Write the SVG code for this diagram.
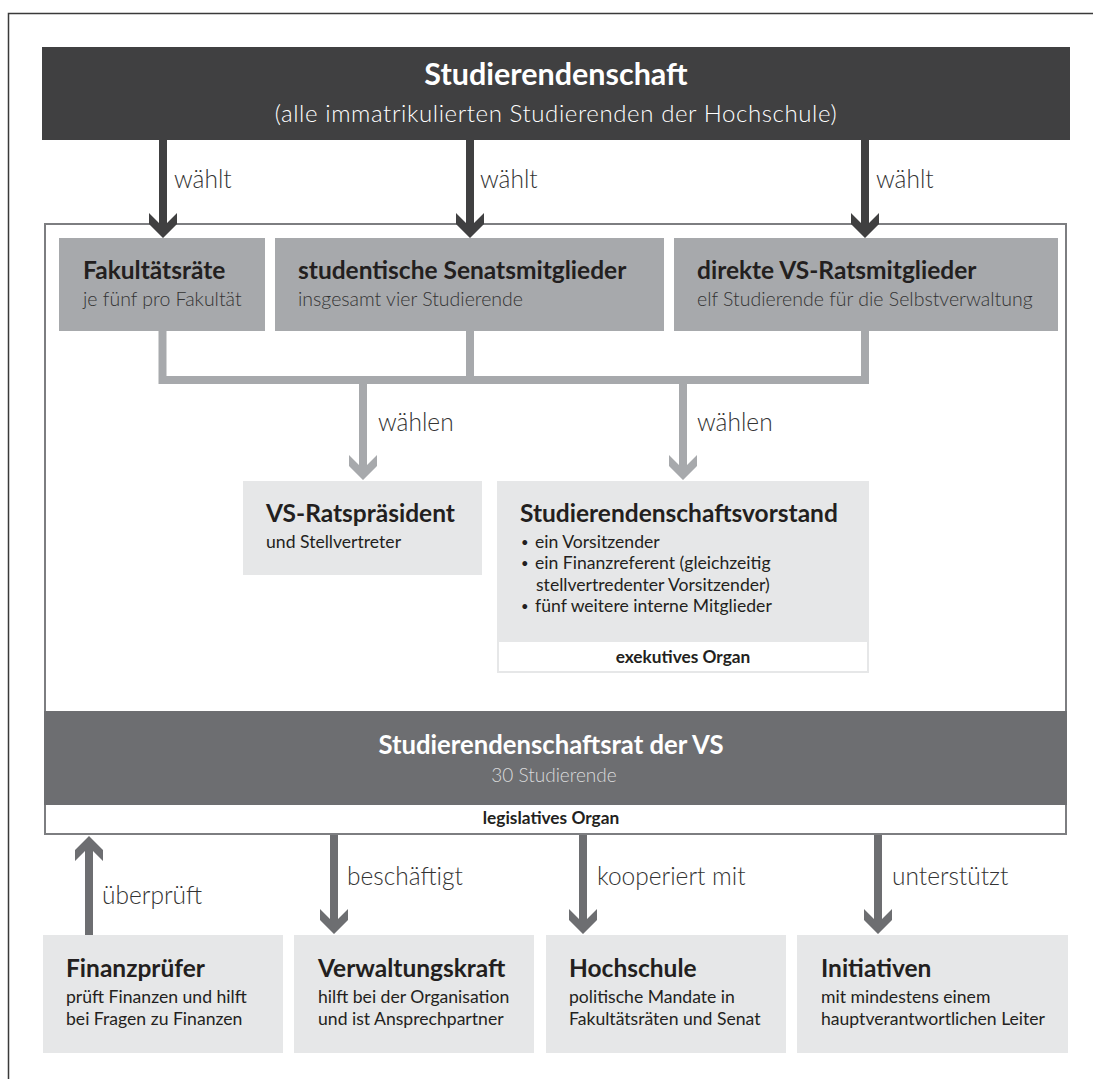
<svg xmlns="http://www.w3.org/2000/svg" width="1093" height="1079" viewBox="0 0 1093 1079">
  <style>
    text { font-family: "Lato", "Open Sans", "Liberation Sans", sans-serif; }
    .bold { font-weight: 700; }
    .light { font-weight: 300; }
    .reg { font-weight: 400; }
    .ink { fill: #231f20; }
    .label { fill: #333333; font-weight: 300; font-size: 24.5px; }
    .dark { fill: #404041; }
    .mid { fill: #6d6e71; }
    .pale { fill: #a7a9ac; }
    .light-box { fill: #e6e7e8; }
    .bus { fill: none; stroke: #a7a9ac; stroke-width: 8; }
    .h1 { font-weight: 700; font-size: 24.5px; fill: #231f20; }
    .sub { font-weight: 300; font-size: 19.5px; fill: #333333; }
    .body { font-weight: 400; font-size: 17.6px; fill: #231f20; }
    .tag { font-weight: 700; font-size: 17.3px; fill: #231f20; }
  </style>

  <!-- outer frame -->
  <rect x="8.5" y="13.5" width="1200" height="1200" fill="#ffffff" stroke="#3a3a3a" stroke-width="1.5"/>

  <!-- inner frame enclosing the council bodies -->
  <rect id="vs-frame" x="45" y="224" width="1021" height="610" fill="#ffffff" stroke="#7d7e81" stroke-width="2"/>

  <!-- student body -->
  <g id="studierendenschaft">
    <rect x="42" y="47" width="1028" height="93" class="dark"/>
    <text x="556" y="85" text-anchor="middle" class="bold" font-size="30.5" fill="#ffffff">Studierendenschaft</text>
    <text x="556" y="122" text-anchor="middle" class="light" font-size="24" letter-spacing="0.6" fill="#ffffff">(alle immatrikulierten Studierenden der Hochschule)</text>
  </g>

  <!-- elected bodies -->
  <g id="fakultaetsraete">
    <rect x="59" y="238" width="206" height="93" class="pale"/>
    <text x="83" y="279" class="h1">Fakultätsräte</text>
    <text x="83" y="306" class="sub">je fünf pro Fakultät</text>
  </g>
  <g id="senatsmitglieder">
    <rect x="275" y="238" width="389" height="93" class="pale"/>
    <text x="298" y="279" class="h1">studentische Senatsmitglieder</text>
    <text x="298" y="306" class="sub">insgesamt vier Studierende</text>
  </g>
  <g id="vs-ratsmitglieder">
    <rect x="674" y="238" width="384" height="93" class="pale"/>
    <text x="697" y="279" class="h1">direkte VS-Ratsmitglieder</text>
    <text x="697" y="306" class="sub">elf Studierende für die Selbstverwaltung</text>
  </g>

  <g id="vs-ratspraesident">
    <rect x="243" y="481" width="239" height="94" class="light-box"/>
    <text x="266" y="522" class="h1">VS-Ratspräsident</text>
    <text x="266" y="548" class="body">und Stellvertreter</text>
  </g>

  <g id="vorstand">
    <rect x="497" y="481" width="372" height="192" class="light-box"/>
    <rect x="499" y="642" width="368" height="29" fill="#ffffff"/>
    <text x="520" y="522" class="h1" font-size="24.8">Studierendenschaftsvorstand</text>
    <g class="body">
      <text x="521" y="547" font-size="13">•</text>
      <text x="535" y="548">ein Vorsitzender</text>
      <text x="521" y="568" font-size="13">•</text>
      <text x="535" y="569">ein Finanzreferent (gleichzeitig</text>
      <text x="536" y="591">stellvertredenter Vorsitzender)</text>
      <text x="521" y="611" font-size="13">•</text>
      <text x="535" y="612">fünf weitere interne Mitglieder</text>
    </g>
    <text x="683" y="663" text-anchor="middle" class="tag">exekutives Organ</text>
  </g>

  <g id="studierendenschaftsrat">
    <rect x="44" y="711" width="1023" height="94" class="mid"/>
    <text x="551" y="754" text-anchor="middle" class="bold" font-size="25.7" fill="#ffffff">Studierendenschaftsrat der VS</text>
    <text x="554" y="782" text-anchor="middle" class="light" font-size="19" fill="#d9dadb">30 Studierende</text>
    <text x="551" y="824" text-anchor="middle" class="tag">legislatives Organ</text>
  </g>

  <!-- partner bodies -->
  <g id="finanzpruefer">
    <rect x="43" y="935" width="240" height="118" class="light-box"/>
    <text x="66" y="977" class="h1" font-size="24">Finanzprüfer</text>
    <text x="66" y="1003" class="body">prüft Finanzen und hilft</text>
    <text x="66" y="1025" class="body">bei Fragen zu Finanzen</text>
  </g>
  <g id="verwaltungskraft">
    <rect x="294" y="935" width="240" height="118" class="light-box"/>
    <text x="318" y="977" class="h1" font-size="24">Verwaltungskraft</text>
    <text x="318" y="1003" class="body">hilft bei der Organisation</text>
    <text x="318" y="1025" class="body">und ist Ansprechpartner</text>
  </g>
  <g id="hochschule">
    <rect x="546" y="935" width="240" height="118" class="light-box"/>
    <text x="569" y="977" class="h1" font-size="24">Hochschule</text>
    <text x="569" y="1003" class="body">politische Mandate in</text>
    <text x="569" y="1025" class="body">Fakultätsräten und Senat</text>
  </g>
  <g id="initiativen">
    <rect x="797" y="935" width="271" height="118" class="light-box"/>
    <text x="821" y="977" class="h1" font-size="24">Initiativen</text>
    <text x="821" y="1003" class="body">mit mindestens einem</text>
    <text x="821" y="1025" class="body">hauptverantwortlichen Leiter</text>
  </g>

  <!-- connectors -->
  <g id="connectors">
    <!-- student body elects -->
    <path class="dark" d="M159,140 H167 V223 L177,213 V224 L163,238 L149,224 V213 L159,223 Z"/>
    <path class="dark" d="M466,140 H474 V223 L484,213 V224 L470,238 L456,224 V213 L466,223 Z"/>
    <path class="dark" d="M861,140 H869 V223 L879,213 V224 L865,238 L851,224 V213 L861,223 Z"/>
    <text x="174" y="188" class="label">wählt</text>
    <text x="480" y="188" class="label">wählt</text>
    <text x="876" y="188" class="label">wählt</text>

    <!-- elected members elect -->
    <path class="bus" d="M162.5,331 V380 H865 V331 M470,331 V380"/>
    <path class="pale" d="M359,380 H367 V465 L377,455 V466 L363,480 L349,466 V455 L359,465 Z"/>
    <path class="pale" d="M679,380 H687 V465 L697,455 V466 L683,480 L669,466 V455 L679,465 Z"/>
    <text x="378" y="431" class="label">wählen</text>
    <text x="697" y="431" class="label">wählen</text>

    <!-- council relations -->
    <path class="mid" d="M85,935 H93 V851 L103,861 V850 L89,836 L75,850 V861 L85,851 Z"/>
    <path class="mid" d="M330,835 H338 V919 L348,909 V920 L334,934 L320,920 V909 L330,919 Z"/>
    <path class="mid" d="M579,835 H587 V919 L597,909 V920 L583,934 L569,920 V909 L579,919 Z"/>
    <path class="mid" d="M874,835 H882 V919 L892,909 V920 L878,934 L864,920 V909 L874,919 Z"/>
    <text x="102" y="904" class="label">überprüft</text>
    <text x="347" y="885" class="label">beschäftigt</text>
    <text x="597" y="885" class="label">kooperiert mit</text>
    <text x="892" y="885" class="label">unterstützt</text>
  </g>
</svg>
